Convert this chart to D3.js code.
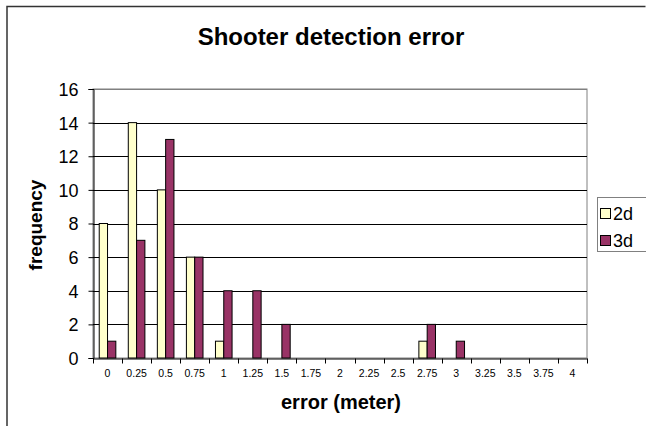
<!DOCTYPE html>
<html><head><meta charset="utf-8">
<script src="https://cdn.jsdelivr.net/npm/d3@7"></script>
<style>body{margin:0;background:#fff}svg{display:block;font-family:"Liberation Sans",Arial,sans-serif}</style>
</head><body>
<script>
const categories = ["0","0.25","0.5","0.75","1","1.25","1.5","1.75","2","2.25","2.5","2.75","3","3.25","3.5","3.75","4"];
const seriesNames = ["2d","3d"];
const values2d = [8,14,10,6,1,0,0,0,0,0,0,1,0,0,0,0,0];
const values3d = [1,7,13,6,4,4,2,0,0,0,0,2,1,0,0,0,0];
const yTicks = [0,2,4,6,8,10,12,14,16];
const colors = {"2d":"#FFFFCC","3d":"#993366"};

const W=646,H=426;
const svg=d3.select("body").append("svg").attr("width",W).attr("height",H);
const L=93,R=587,T=89,B=358;

// outer chart border
svg.append("path").attr("d",`M7,${H} V6.5 H645.5`).attr("fill","none").attr("stroke","#333").attr("stroke-width",1.5);

const x=d3.scaleBand().domain(categories).range([L,R]).padding(0);
const x1=d3.scaleBand().domain(seriesNames).range([0,x.bandwidth()]).paddingInner(0).paddingOuter(0.75);
const y=d3.scaleLinear().domain([0,16]).range([B,T]);

// plot border (gray)
svg.append("rect").attr("x",L).attr("y",T).attr("width",R-L).attr("height",B-T).attr("fill","none").attr("stroke","#808080").attr("stroke-width",1);

// gridlines
svg.append("g").selectAll("line").data(yTicks.filter(d=>d>0)).join("line")
 .attr("x1",L).attr("x2",R).attr("y1",d=>Math.round(y(d))+0.5).attr("y2",d=>Math.round(y(d))+0.5)
 .attr("stroke",d=>d===16?"#808080":"#000").attr("stroke-width",1);

// bars
const data=categories.map((c,i)=>({c,"2d":values2d[i],"3d":values3d[i]}));
const g=svg.append("g");
data.forEach(d=>{
  seriesNames.forEach(s=>{
    if(d[s]>0){
      g.append("rect").attr("x",x(d.c)+x1(s)).attr("y",y(d[s])).attr("width",x1.bandwidth()).attr("height",B-y(d[s]))
       .attr("fill",colors[s]).attr("stroke","#000").attr("stroke-width",1);
    }
  });
});

// y axis
const ya=svg.append("g").attr("transform",`translate(${L+0.5},0)`).call(d3.axisLeft(y).tickValues(yTicks).tickSize(5).tickPadding(10));
ya.select(".domain").attr("stroke","#000");
ya.selectAll("text").attr("font-size","18px").attr("fill","#000").attr("font-family","Liberation Sans, Arial, sans-serif").attr("dy","0.36em");
ya.selectAll("line").attr("stroke","#000");

// x axis: ticks at category boundaries
const xa=svg.append("g").attr("transform",`translate(0,${B+0.5})`).call(d3.axisBottom(x).tickSize(0).tickPadding(11));
xa.select(".domain").attr("stroke","#000");
xa.selectAll("text").attr("font-size","10.5px").attr("fill","#000").attr("font-family","Liberation Sans, Arial, sans-serif");
const bounds=categories.map(c=>x(c)).concat([x(categories[categories.length-1])+x.bandwidth()]);
xa.selectAll(".bnd").data(bounds).join("line").attr("class","bnd")
 .attr("x1",d=>Math.round(d)+0.5).attr("x2",d=>Math.round(d)+0.5).attr("y1",0).attr("y2",5).attr("stroke","#000");

// titles
svg.append("text").attr("x",331).attr("y",45).attr("text-anchor","middle").attr("font-size","24px").attr("font-weight","bold").text("Shooter detection error");
svg.append("text").attr("x",341).attr("y",409).attr("text-anchor","middle").attr("font-size","20px").attr("font-weight","bold").text("error (meter)");
svg.append("text").attr("transform","translate(42,225) rotate(-90)").attr("text-anchor","middle").attr("font-size","19px").attr("font-weight","bold").text("frequency");

// legend
const lg=svg.append("g");
lg.append("rect").attr("x",597.5).attr("y",197.5).attr("width",60).attr("height",54).attr("fill","#fff").attr("stroke","#808080");
seriesNames.forEach((s,i)=>{
  const cy=213+i*27;
  lg.append("rect").attr("x",600.5).attr("y",cy-4.5).attr("width",10).attr("height",10).attr("fill",colors[s]).attr("stroke","#000");
  lg.append("text").attr("x",613).attr("y",cy+6.5).attr("font-size","18px").text(s);
});
</script>
</body></html>
